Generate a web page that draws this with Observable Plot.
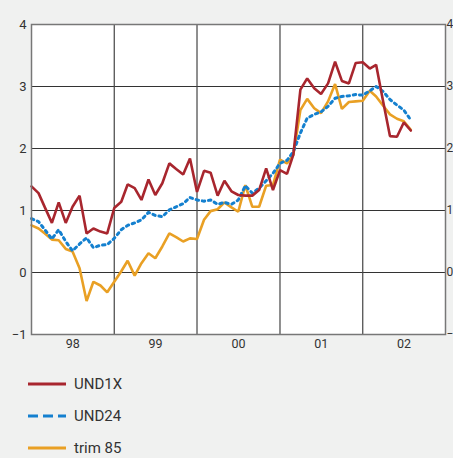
<!DOCTYPE html>
<html><head><meta charset="utf-8">
<script src="https://cdn.jsdelivr.net/npm/d3@7"></script>
<script src="https://cdn.jsdelivr.net/npm/@observablehq/plot@0.6"></script>
<style>
html,body{margin:0;padding:0;background:#f0f1f0;}
body{width:453px;height:458px;overflow:hidden;font-family:Roboto,"Open Sans",sans-serif;}
#chart svg{display:block;background:transparent;}
#legend{position:relative;margin-left:28px;margin-top:10px;}
.item{display:flex;align-items:center;height:32px;font-size:15px;color:#333;}
.item svg{margin-right:8px;}
</style></head><body>
<div id="chart"></div>
<div id="legend"></div>
<script>
const startYear = 1998;
const years = [1998, 1999, 2000, 2001, 2002];
const yTicks = [-1, 0, 1, 2, 3, 4];
const und1x = [1.39,1.28,1.05,0.80,1.13,0.80,1.06,1.24,0.63,0.71,0.66,0.63,
  1.04,1.14,1.42,1.36,1.17,1.50,1.25,1.44,1.76,1.67,1.58,1.84,
  1.30,1.64,1.61,1.24,1.48,1.31,1.25,1.24,1.24,1.33,1.68,1.33,
  1.65,1.59,1.90,2.95,3.13,2.97,2.88,3.05,3.40,3.09,3.05,3.38,
  3.39,3.29,3.35,2.76,2.20,2.19,2.42,2.29];
const und24 = [0.87,0.82,0.69,0.54,0.69,0.50,0.35,0.46,0.56,0.40,0.44,0.45,
  0.55,0.69,0.76,0.80,0.85,0.97,0.92,0.90,1.01,1.06,1.11,1.21,
  1.17,1.15,1.17,1.10,1.13,1.10,1.17,1.40,1.28,1.36,1.48,1.60,
  1.76,1.81,1.95,2.25,2.49,2.55,2.59,2.68,2.81,2.84,2.85,2.87,
  2.86,2.93,3.00,2.92,2.79,2.70,2.62,2.46];
const trim85 = [0.76,0.71,0.63,0.53,0.52,0.38,0.34,0.07,-0.46,-0.15,-0.21,-0.32,
  -0.15,0.02,0.19,-0.05,0.15,0.31,0.23,0.42,0.63,0.57,0.50,0.55,
  0.54,0.85,0.99,1.02,1.13,1.05,0.98,1.41,1.06,1.06,1.40,1.41,
  1.82,1.76,1.90,2.62,2.80,2.65,2.57,2.76,3.04,2.64,2.75,2.76,
  2.77,2.93,2.84,2.69,2.55,2.48,2.44,2.30];
const seriesNames = ["UND1X", "UND24", "trim 85"];
const colors = {"UND1X": "#a8262e", "UND24": "#1480cf", "trim 85": "#e9a024"};

const toRows = (name, vals) => vals.map((v, i) => ({name, date: new Date(Date.UTC(startYear, i, 1)), value: v}));
const rows1 = toRows("UND1X", und1x);
const rows2 = toRows("UND24", und24);
const rows3 = toRows("trim 85", trim85);

const xStart = new Date(Date.UTC(years[0], 0, 1));
const xEnd = new Date(Date.UTC(years[years.length - 1] + 1, 0, 1));
const boundaries = years.slice(1).map(y => new Date(Date.UTC(y, 0, 1)));
const mids = years.map(y => new Date(Date.UTC(y, 6, 2)));

const plot = Plot.plot({
  width: 453, height: 358,
  marginLeft: 31, marginRight: 8, marginTop: 24, marginBottom: 24,
  style: {fontFamily: "Roboto, 'Open Sans', sans-serif", fontSize: "12px", color: "#333", background: "transparent"},
  x: {type: "utc", domain: [xStart, xEnd]},
  y: {domain: [-1, 4]},
  marks: [
    Plot.frame({fill: "white", stroke: "none"}),
    Plot.ruleY(yTicks.filter(t => t > -1 && t < 4), {stroke: "#333", strokeWidth: 1.2}),
    Plot.ruleX(boundaries, {stroke: "#444", strokeWidth: 1.2}),
    Plot.line(rows3, {x: "date", y: "value", stroke: colors["trim 85"], strokeWidth: 2.6, strokeLinejoin: "miter"}),
    Plot.line(rows2, {x: "date", y: "value", stroke: colors["UND24"], strokeWidth: 3, strokeDasharray: "2.5,3.8"}),
    Plot.line(rows1, {x: "date", y: "value", stroke: colors["UND1X"], strokeWidth: 2.6, strokeLinejoin: "miter"}),
    Plot.frame({stroke: "#777", strokeWidth: 1.5}),
    Plot.axisY(yTicks, {anchor: "left", tickSize: 0, tickPadding: 5, fontSize: 13, label: null, tickFormat: d3.format("d")}),
    Plot.axisY(yTicks, {anchor: "right", tickSize: 0, tickPadding: 1, fontSize: 12, label: null, tickFormat: d3.format("d")}),
    Plot.axisX(mids, {anchor: "bottom", tickSize: 0, tickPadding: 5, fontSize: 12.5, tickFormat: d3.utcFormat("%y"), label: null})
  ]
});
document.getElementById("chart").append(plot);

const legend = document.getElementById("legend");
for (const name of seriesNames) {
  const item = document.createElement("div");
  item.className = "item";
  const dash = name === "UND24" ? "stroke-dasharray='10,5'" : "";
  item.innerHTML = `<svg width="38" height="6"><line x1="0" x2="38" y1="3" y2="3" stroke="${colors[name]}" stroke-width="3" ${dash}/></svg><span>${name}</span>`;
  legend.append(item);
}
</script>
</body></html>
